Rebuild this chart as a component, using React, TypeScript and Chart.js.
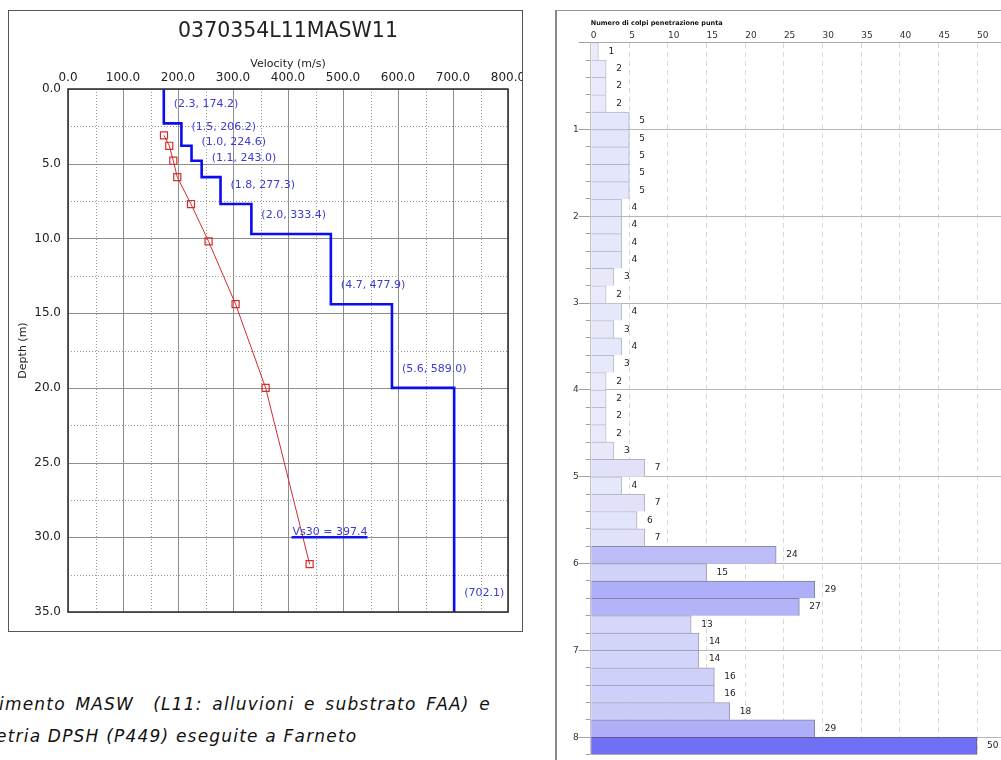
import React, { useEffect, useRef } from "react";
import { Chart, registerables } from "chart.js";

Chart.register(...registerables);

const FONT = '"DejaVu Sans", Verdana, sans-serif';

// ---------- MASW profile (left chart) ----------
const chartTitle = "0370354L11MASW11";
const velocityAxisTitle = "Velocity (m/s)";
const depthAxisTitle = "Depth (m)";
const layerThickness = [2.3, 1.5, 1.0, 1.1, 1.8, 2.0, 4.7, 5.6];
const layerVelocity = [174.2, 206.2, 224.6, 243.0, 277.3, 333.4, 477.9, 589.0];
const halfSpaceVelocity = 702.1;
const averageVelocity = [174.5, 184.2, 191.5, 198.7, 223.6, 255.6, 304.7, 359.3, 439.3];
const averageDepth = [3.1, 3.8, 4.8, 5.9, 7.7, 10.2, 14.4, 20.0, 31.8];
const vs30Value = 397.4;
const vs30Depth = 30;
const velocityTicks = [0, 100, 200, 300, 400, 500, 600, 700, 800];
const depthTicks = [0, 5, 10, 15, 20, 25, 30, 35];

// ---------- DPSH (right chart) ----------
const dpshTitle = "Numero di colpi penetrazione punta";
const readingDepth = [
  "0.2", "0.4", "0.6", "0.8", "1.0", "1.2", "1.4", "1.6", "1.8", "2.0",
  "2.2", "2.4", "2.6", "2.8", "3.0", "3.2", "3.4", "3.6", "3.8", "4.0",
  "4.2", "4.4", "4.6", "4.8", "5.0", "5.2", "5.4", "5.6", "5.8", "6.0",
  "6.2", "6.4", "6.6", "6.8", "7.0", "7.2", "7.4", "7.6", "7.8", "8.0", "8.2",
];
const blowCounts = [
  1, 2, 2, 2, 5, 5, 5, 5, 5, 4,
  4, 4, 4, 3, 2, 4, 3, 4, 3, 2,
  2, 2, 2, 3, 7, 4, 7, 6, 7, 24,
  15, 29, 27, 13, 14, 14, 16, 16, 18, 29, 50,
];
const blowTicks = [0, 5, 10, 15, 20, 25, 30, 35, 40, 45, 50];
const meterTicks = [1, 2, 3, 4, 5, 6, 7, 8];

// ---------- captions ----------
const captionLine1 = "imento MASW  (L11: alluvioni e substrato FAA) e";
const captionLine2 = "etria DPSH (P449) eseguite a Farneto";

function mix(a: number[], b: number[], t: number) {
  return `rgb(${a.map((v, i) => Math.round(v + (b[i] - v) * t)).join(",")})`;
}
const blowMax = blowTicks[blowTicks.length - 1];
const barFill = (v: number) => mix([234, 236, 251], [112, 112, 244], Math.pow(v / blowMax, 1.3));
const barLine = (v: number) => mix([196, 196, 210], [92, 92, 130], Math.pow(v / blowMax, 0.8));

function MaswChart() {
  const ref = useRef<HTMLCanvasElement | null>(null);
  useEffect(() => {
    if (!ref.current) return;
    const stepPoints: { x: number; y: number }[] = [];
    let d = 0;
    layerVelocity.forEach((v, i) => {
      stepPoints.push({ x: v, y: d });
      d += layerThickness[i];
      stepPoints.push({ x: v, y: d });
    });
    const maxDepth = depthTicks[depthTicks.length - 1];
    stepPoints.push({ x: halfSpaceVelocity, y: d });
    stepPoints.push({ x: halfSpaceVelocity, y: maxDepth });
    const avgPoints = averageVelocity.map((v, i) => ({ x: v, y: averageDepth[i] }));

    const gridPlugin = {
      id: "maswGrid",
      beforeDatasetsDraw(chart: any) {
        const { ctx, chartArea: a, scales } = chart;
        const xs = scales.x, ys = scales.y;
        ctx.save();
        ctx.lineWidth = 1;
        const vHalf = (velocityTicks[1] - velocityTicks[0]) / 2;
        for (let v = velocityTicks[0]; v <= velocityTicks[velocityTicks.length - 1]; v += vHalf) {
          const major = velocityTicks.includes(v);
          const px = Math.round(xs.getPixelForValue(v)) + 0.5;
          ctx.setLineDash(major ? [] : [1, 2]);
          ctx.strokeStyle = major ? "#8e8e8e" : "#9a9a9a";
          ctx.beginPath();
          ctx.moveTo(px, a.top);
          ctx.lineTo(px, a.bottom);
          ctx.stroke();
        }
        const dHalf = (depthTicks[1] - depthTicks[0]) / 2;
        for (let v = depthTicks[0]; v <= depthTicks[depthTicks.length - 1]; v += dHalf) {
          const major = depthTicks.includes(v);
          const py = Math.round(ys.getPixelForValue(v)) + 0.5;
          ctx.setLineDash(major ? [] : [1, 2]);
          ctx.strokeStyle = major ? "#8e8e8e" : "#9a9a9a";
          ctx.beginPath();
          ctx.moveTo(a.left, py);
          ctx.lineTo(a.right, py);
          ctx.stroke();
        }
        ctx.restore();
      },
      afterDraw(chart: any) {
        const { ctx, chartArea: a, scales } = chart;
        const xs = scales.x, ys = scales.y;
        ctx.save();
        ctx.setLineDash([]);
        ctx.strokeStyle = "#333";
        ctx.lineWidth = 1.6;
        ctx.strokeRect(a.left, a.top, a.right - a.left, a.bottom - a.top);

        ctx.font = `11px ${FONT}`;
        ctx.fillStyle = "#3c3cd2";
        ctx.textAlign = "left";
        ctx.textBaseline = "middle";
        let dd = 0;
        layerVelocity.forEach((v, i) => {
          dd += layerThickness[i];
          ctx.fillText(
            `(${layerThickness[i].toFixed(1)}, ${v.toFixed(1)})`,
            xs.getPixelForValue(v) + 10,
            ys.getPixelForValue(dd) - 19
          );
        });
        ctx.fillText(
          `(${halfSpaceVelocity.toFixed(1)})`,
          xs.getPixelForValue(halfSpaceVelocity) + 10,
          ys.getPixelForValue(depthTicks[depthTicks.length - 1]) - 19
        );
        // Vs30 underlined label
        const label = `Vs30 = ${vs30Value.toFixed(1)}`;
        const lx = xs.getPixelForValue(vs30Value) + 6;
        const ly = ys.getPixelForValue(vs30Depth);
        ctx.textBaseline = "alphabetic";
        ctx.fillText(label, lx, ly - 2);
        const w = ctx.measureText(label).width;
        ctx.strokeStyle = "#1414ec";
        ctx.lineWidth = 2.5;
        ctx.beginPath();
        ctx.moveTo(lx - 1, ly);
        ctx.lineTo(lx + w, ly);
        ctx.stroke();
        ctx.restore();
      },
    };

    const chart = new Chart(ref.current, {
      type: "scatter",
      data: {
        datasets: [
          {
            data: stepPoints,
            showLine: true,
            borderColor: "#0c0cf0",
            borderWidth: 2.6,
            pointRadius: 0,
            fill: false,
          },
          {
            data: avgPoints,
            showLine: true,
            borderColor: "#d42c2c",
            borderWidth: 1,
            pointStyle: "rect",
            pointRadius: 5,
            pointBorderColor: "#d42c2c",
            pointBackgroundColor: "rgba(255,255,255,0)",
            pointBorderWidth: 1.2,
            fill: false,
          },
        ],
      },
      options: {
        animation: false,
        responsive: false,
        maintainAspectRatio: false,
        layout: { padding: { left: 0, right: 14, top: 0, bottom: 19 } },
        plugins: {
          legend: { display: false },
          tooltip: { enabled: false },
          title: {
            display: true,
            text: chartTitle,
            fullSize: false,
            color: "#222",
            font: { family: FONT, size: 20.5, weight: "normal" },
            padding: { top: 8.7, bottom: 0 },
          },
        },
        scales: {
          x: {
            type: "linear",
            position: "top",
            min: velocityTicks[0],
            max: velocityTicks[velocityTicks.length - 1],
            grid: { display: false, drawTicks: false },
            border: { display: false },
            ticks: {
              stepSize: velocityTicks[1] - velocityTicks[0],
              callback: (v: any) => Number(v).toFixed(1),
              font: { family: FONT, size: 12 },
              color: "#222",
              padding: 4,
              maxRotation: 0,
            },
            title: {
              display: true,
              text: velocityAxisTitle,
              color: "#222",
              font: { family: FONT, size: 11 },
              padding: { top: 13, bottom: 0 },
            },
            afterFit: (s: any) => {
              s.height = 44.7;
              s.paddingLeft = 0;
              s.paddingRight = 0;
            },
          },
          y: {
            type: "linear",
            reverse: true,
            min: depthTicks[0],
            max: depthTicks[depthTicks.length - 1],
            grid: { display: false, drawTicks: false },
            border: { display: false },
            ticks: {
              stepSize: depthTicks[1] - depthTicks[0],
              callback: (v: any) => Number(v).toFixed(1),
              font: { family: FONT, size: 12 },
              color: "#222",
              padding: 7,
            },
            title: {
              display: true,
              text: depthAxisTitle,
              color: "#222",
              font: { family: FONT, size: 11 },
              padding: { top: 7.4, bottom: 0 },
            },
            afterFit: (s: any) => {
              s.width = 59;
              s.paddingTop = 0;
              s.paddingBottom = 0;
            },
          },
        },
      } as any,
      plugins: [gridPlugin],
    });
    return () => chart.destroy();
  }, []);
  return <canvas ref={ref} width={513} height={620} style={{ width: 513, height: 620, display: "block" }} />;
}

function DpshChart() {
  const ref = useRef<HTMLCanvasElement | null>(null);
  useEffect(() => {
    if (!ref.current) return;
    const last = blowCounts.length - 1;
    const valuePlugin = {
      id: "dpshValues",
      afterDatasetsDraw(chart: any) {
        const { ctx } = chart;
        const meta = chart.getDatasetMeta(0);
        ctx.save();
        ctx.font = `9px ${FONT}`;
        ctx.fillStyle = "#222";
        ctx.textAlign = "left";
        ctx.textBaseline = "middle";
        meta.data.forEach((bar: any, i: number) => {
          ctx.fillText(String(blowCounts[i]), bar.x + 10, bar.y);
        });
        ctx.restore();
      },
    };
    const chart = new Chart(ref.current, {
      type: "bar",
      data: {
        labels: readingDepth,
        datasets: [
          {
            data: blowCounts,
            backgroundColor: blowCounts.map(barFill),
            borderColor: blowCounts.map(barLine),
            borderWidth: (c: any) => ({ top: 1, right: 1, bottom: c.dataIndex === last ? 1 : 0, left: 0 }),
            borderSkipped: false,
            barPercentage: 1,
            categoryPercentage: 1,
            xAxisID: "x",
            yAxisID: "y",
          },
        ],
      },
      options: {
        indexAxis: "y",
        animation: false,
        responsive: false,
        maintainAspectRatio: false,
        layout: { padding: { left: 0, right: 0, top: 0, bottom: 4.3 } },
        plugins: {
          legend: { display: false },
          tooltip: { enabled: false },
          title: {
            display: true,
            text: dpshTitle,
            align: "start",
            fullSize: false,
            color: "#111",
            font: { family: FONT, size: 6.5, weight: "bold" },
            padding: { top: 8.1, bottom: 0 },
          },
        },
        scales: {
          x: {
            type: "linear",
            position: "top",
            min: blowTicks[0],
            max: blowTicks[blowTicks.length - 1] + 5,
            grid: {
              drawTicks: false,
              lineWidth: 1,
              color: (c: any) =>
                c.tick && c.tick.value > 0 && c.tick.value <= blowMax ? "#dadada" : "rgba(0,0,0,0)",
            },
            border: { display: true, color: "#aaa", width: 1, dash: [5, 4] },
            ticks: {
              stepSize: blowTicks[1] - blowTicks[0],
              includeBounds: false,
              autoSkip: false,
              maxRotation: 0,
              align: "start",
              callback: (v: any) => (Number(v) <= blowMax ? String(v) : ""),
              font: { family: FONT, size: 9 },
              color: "#333",
              padding: 1.3,
            },
            afterFit: (s: any) => {
              s.height = 15.8;
            },
          },
          y: {
            type: "category",
            position: "left",
            weight: 0,
            offset: true,
            ticks: { display: false },
            grid: {
              offset: true,
              drawOnChartArea: false,
              drawTicks: true,
              tickLength: 5,
              tickColor: "#a0a0a0",
            },
            border: { display: true, color: "#c4c4c4", width: 1 },
            afterFit: (s: any) => {
              s.width = 5;
            },
          },
          yd: {
            type: "linear",
            axis: "y",
            position: "left",
            weight: 1,
            reverse: true,
            offset: false,
            min: 0,
            max: Number(readingDepth[readingDepth.length - 1]),
            ticks: {
              stepSize: meterTicks[1] - meterTicks[0],
              includeBounds: false,
              callback: (v: any) => (meterTicks.includes(Number(v)) ? String(v) : ""),
              font: { family: FONT, size: 9 },
              color: "#333",
              padding: 0,
            },
            grid: {
              offset: false,
              drawOnChartArea: true,
              drawTicks: true,
              tickLength: 7,
              color: "#b6b6b6",
              tickColor: "#a0a0a0",
              lineWidth: 1,
            },
            border: { display: false },
            afterFit: (s: any) => {
              s.width = 28.7;
            },
          },
        },
      } as any,
      plugins: [valuePlugin],
    });
    return () => chart.destroy();
  }, []);
  return <canvas ref={ref} width={460} height={749} style={{ width: 460, height: 749, display: "block" }} />;
}

export default function App() {
  const caption: React.CSSProperties = {
    position: "absolute",
    fontFamily: FONT,
    fontStyle: "italic",
    fontSize: 17,
    lineHeight: "20px",
    letterSpacing: "1.2px",
    color: "#111",
    whiteSpace: "pre",
  };
  return (
    <div
      style={{
        position: "fixed",
        left: 0,
        top: 0,
        width: 1001,
        height: 760,
        overflow: "hidden",
        background: "#fff",
      }}
    >
      <div
        style={{
          position: "absolute",
          left: 8,
          top: 10,
          width: 515,
          height: 622,
          border: "1px solid #555",
          boxSizing: "border-box",
        }}
      >
        <MaswChart />
      </div>
      <div
        style={{
          position: "absolute",
          left: 555,
          top: 10,
          width: 480,
          height: 760,
          borderLeft: "2px solid #8a8a8a",
          borderTop: "1px solid #999",
          overflow: "hidden",
        }}
      >
        <DpshChart />
      </div>
      <div style={{ ...caption, left: -1, top: 694, wordSpacing: "3px" }}>{captionLine1}</div>
      <div style={{ ...caption, left: -4, top: 726 }}>{captionLine2}</div>
    </div>
  );
}
